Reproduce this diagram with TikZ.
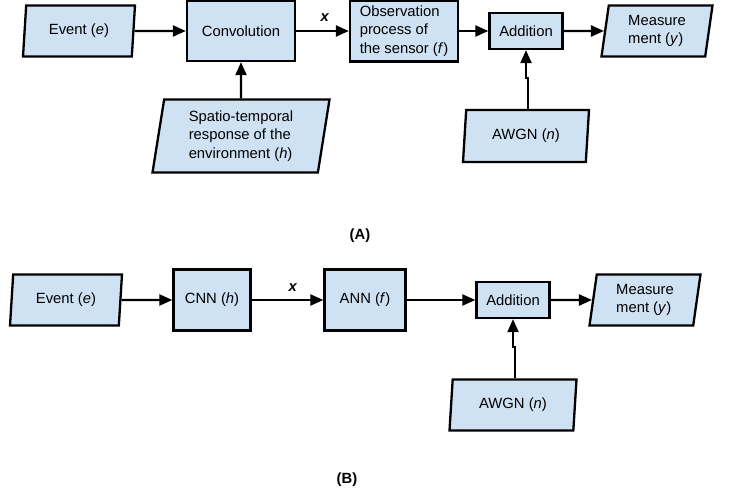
\documentclass[tikz,border=0pt]{standalone}
\usepackage{fontspec}
\setmainfont{Liberation Sans}
\usetikzlibrary{shapes.geometric,arrows.meta}
\definecolor{boxblue}{HTML}{CFE2F3}

\begin{document}
\begin{tikzpicture}[x=1pt,y=-1pt,font=\fontsize{14.8}{18.3}\selectfont]

\tikzstyle{block}=[rectangle,draw,line width=2.3pt,fill=boxblue,inner sep=0pt]
\tikzstyle{data}=[trapezium,trapezium left angle=77,trapezium right angle=103,
  trapezium stretches body=true,draw,line width=2.3pt,fill=boxblue,inner sep=0pt]
\tikzstyle{arr}=[line width=2.2pt,-{Triangle[length=13pt,width=11pt]}]

\useasboundingbox (0,0) rectangle (730,492);

% (A) physical model
\node[data]  (evA)   at ( 79, 31) [minimum width=112pt,minimum height=51pt] {Event (\textit{e})} ;
\node[block] (convA) at (241, 31) [minimum width=108pt,minimum height=60pt] {Convolution} ;
\node[data]  (spatA) at (241,136) [minimum width=177pt,minimum height=73pt,align=left]
  {Spatio-temporal\\response of the\\environment (\textit{h})} ;
\node[block] (obsA)  at (404, 31) [minimum width=108pt,minimum height=61pt,align=left]
  {Observation\\process of\\the sensor (\textit{f})} ;
\node[block] (addA)  at (526, 31) [minimum width=73pt,minimum height=36pt] {Addition} ;
\node[data]  (measA) at (657, 31) [minimum width=111pt,minimum height=51pt,align=left]
  {Measure\\ment (\textit{y})} ;
\node[data]  (awgnA) at (526,136) [minimum width=126pt,minimum height=52pt] {AWGN (\textit{n})} ;
\node        (xA)    at (325, 18) {\textbf{\textit{x}}} ;
\node        (labA)  at (360,236) {\textbf{(A)}} ;

\draw [arr] (evA) -- (convA);
\draw [arr] (spatA) -- (convA);
\draw [arr] (convA) -- (obsA);
\draw [arr] (obsA) -- (addA);
\draw [arr] (addA) -- (measA);
\draw [arr] (awgnA.top side) -- ++(0,-31) -| (addA.south);

% (B) learned model
\node[data]  (evB)   at ( 66,300) [minimum width=112pt,minimum height=51pt] {Event (\textit{e})} ;
\node[block] (cnnB)  at (212,300) [minimum width=77pt,minimum height=61pt] {CNN (\textit{h})} ;
\node[block] (annB)  at (365,300) [minimum width=81pt,minimum height=61pt] {ANN (\textit{f})} ;
\node[block] (addB)  at (513,300) [minimum width=73pt,minimum height=36pt] {Addition} ;
\node[data]  (measB) at (645,300) [minimum width=111pt,minimum height=51pt,align=left]
  {Measure\\ment (\textit{y})} ;
\node[data]  (awgnB) at (513,405) [minimum width=127pt,minimum height=51pt] {AWGN (\textit{n})} ;
\node        (xB)    at (293,288) {\textbf{\textit{x}}} ;
\node        (labB)  at (347,480) {\textbf{(B)}} ;

\draw [arr] (evB) -- (cnnB);
\draw [arr] (cnnB) -- (annB);
\draw [arr] (annB) -- (addB);
\draw [arr] (addB) -- (measB);
\draw [arr] (awgnB.top side) -- ++(0,-31) -| (addB.south);

\end{tikzpicture}
\end{document}
